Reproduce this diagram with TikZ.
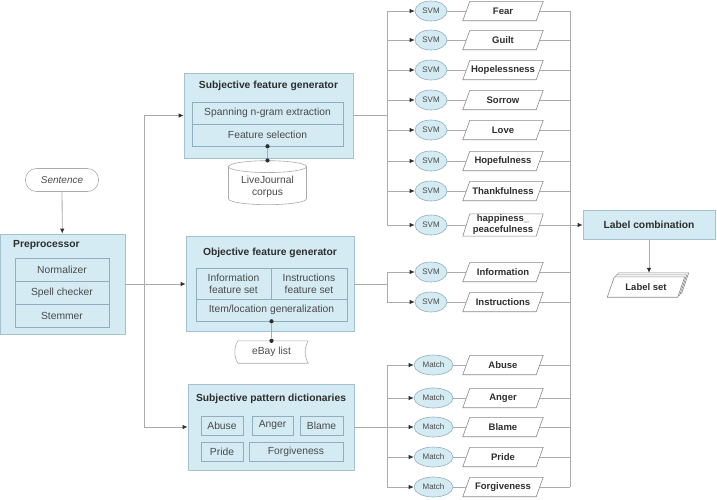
\documentclass[tikz,border=0pt]{standalone}
\usepackage{fontspec}
\setmainfont{Liberation Sans}
\usepackage{xcolor}
\usepackage{tikz}
\usetikzlibrary{calc,arrows.meta,shapes.geometric,backgrounds}
\definecolor{ink}{HTML}{2E2E2E}
\definecolor{soft}{HTML}{4A4A4A}
\definecolor{wiregray}{HTML}{ABABAB}
\definecolor{boxfill}{HTML}{D4EBF3}
\definecolor{boxline}{HTML}{A3C3CF}
\definecolor{rowline}{HTML}{8FAFBD}
\tikzset{
  wire/.style={draw=wiregray, line width=0.8pt},
  arr/.style={wire, -{Latex[length=5pt,width=4.5pt,color=ink]}},
  gen/.style={rectangle, draw=boxline, fill=boxfill, line width=0.8pt, inner sep=0pt},
  row/.style={rectangle, draw=rowline, line width=0.6pt, inner sep=0pt, text=soft, font=\fontsize{10.3}{12}\selectfont, align=center},
  ttl/.style={text=ink, font=\fontsize{10.3}{12}\selectfont\bfseries, inner sep=0pt},
  term/.style={rectangle, rounded corners=11pt, draw=wiregray, line width=0.6pt, minimum width=73, minimum height=23, text=soft, font=\fontsize{10}{12}\selectfont\itshape},
  clf/.style={ellipse, draw=rowline, fill=boxfill, line width=0.6pt, inner sep=0pt, minimum height=20, text=soft, font=\fontsize{8}{9}\selectfont},
  lbl/.style={rectangle, minimum width=73, minimum height=19, inner sep=1pt, text=ink, font=\fontsize{9.5}{11}\selectfont\bfseries, align=center,
    append after command={\pgfextra{\begin{pgfonlayer}{background}
      \draw[draw=wiregray!80!black, fill=white, line width=0.6pt]
        ([xshift=-3.5pt]\tikzlastnode.south west) -- ([xshift=3.5pt]\tikzlastnode.north west)
        -- ([xshift=3.5pt]\tikzlastnode.north east) -- ([xshift=-3.5pt]\tikzlastnode.south east) -- cycle;
      \end{pgfonlayer}}}},
  corpus/.style={cylinder, shape border rotate=90, aspect=0.2, draw=wiregray, fill=white, line width=0.6pt, minimum width=78, minimum height=44, text=soft, align=center, font=\fontsize{10.3}{12}\selectfont},
  store/.style={rectangle, inner sep=0pt, text=soft, font=\fontsize{10.3}{12}\selectfont},
  dot/.style={circle, fill=ink, inner sep=1.5pt},
}
\begin{document}
\begin{tikzpicture}[x=1pt,y=1pt]
\useasboundingbox (0,0) rectangle (717,-499);
% input and preprocessing
\node[term] (snt) at (62,-180) {Sentence};
\node[gen, minimum width=125, minimum height=100] (pre) at (62.5,-284) {};
\node[ttl, anchor=west] (pret) at (13,-245) {Preprocessor};
\node[row, minimum width=94, minimum height=23] (nrm) at (62,-269.5) {Normalizer};
\node[row, minimum width=94, minimum height=23] (spl) at (62,-292.5) {Spell checker};
\node[row, minimum width=94, minimum height=23] (stm) at (62,-315.5) {Stemmer};
\draw[arr] (snt) -- (pre);

% subjective feature generator
\node[gen, minimum width=169, minimum height=85] (sfg) at (268.5,-115.5) {};
\node[ttl] (sfgt) at (268.5,-86) {Subjective feature generator};
\node[row, minimum width=151, minimum height=22] (sng) at (267.5,-113) {Spanning n-gram extraction};
\node[row, minimum width=151, minimum height=22] (fsl) at (267.5,-135) {Feature selection};
\node[corpus] (lj) at (267.5,-187) {LiveJournal\\corpus};
\node[dot] (fd1) at (fsl.south) {};
\node[dot] (fd2) at (lj.north) {};
\draw[wire] (fd1) -- (fd2);

% objective feature generator
\node[gen, minimum width=168, minimum height=95] (ofg) at (270,-284) {};
\node[ttl] (ofgt) at (270,-253) {Objective feature generator};
\node[row, minimum width=75, minimum height=31] (ifs) at (233.5,-283.5) {Information\\feature set};
\node[row, minimum width=76, minimum height=31] (nfs) at (309,-283.5) {Instructions\\feature set};
\node[row, minimum width=151, minimum height=22] (ilg) at (271.5,-310) {Item/location generalization};
\node[store, minimum width=73, minimum height=22] (eby) at (271.5,-352) {eBay list};
\draw[wire, line width=0.6pt] ($(eby.north west)+(3,0)$) -- (eby.north east)
  .. controls ($(eby.north east)+(-4,-7)$) and ($(eby.south east)+(-4,7)$) .. (eby.south east)
  -- ($(eby.south west)+(3,0)$)
  .. controls ($(eby.south west)+(-1,7)$) and ($(eby.north west)+(-1,-7)$) .. ($(eby.north west)+(3,0)$);
\node[dot] (od1) at (ilg.south) {};
\node[dot] (od2) at (eby.north) {};
\draw[wire] (od1) -- (od2);

% pattern dictionaries
\node[gen, minimum width=166, minimum height=86] (spd) at (271,-427) {};
\node[ttl] (spdt) at (271,-399) {Subjective pattern dictionaries};
\node[row, minimum width=42, minimum height=19] (dab) at (222,-425.5) {Abuse};
\node[row, minimum width=41, minimum height=19] (dan) at (272.5,-425.5) {Anger};
\node[row, minimum width=43, minimum height=19] (dbl) at (321.5,-425.5) {Blame};
\node[row, minimum width=42, minimum height=19] (dpr) at (222,-451.5) {Pride};
\node[row, minimum width=94, minimum height=19] (dfg) at (296,-451.5) {Forgiveness};

% branching to the generators
\coordinate (t1) at (144,-115.5);
\coordinate (t2) at (144,-427);
\coordinate (lt) at (387,0);
\coordinate (rt) at (570,0);
\draw[wire] (t1) -- (t2);
\draw[arr] (t1) -- (sfg.west);
\draw[arr] (pre.east) -- (ofg.west);
\draw[arr] (t2) -- (spd.west);

% classifiers
\foreach \y/\t/\n in {11/Fear/a,40/Guilt/b,70/Hopelessness/c,100/Sorrow/d,130/Love/e,161/Hopefulness/f,191/Thankfulness/g,225/{happiness\_\\peacefulness}/h,272/Information/i,302/Instructions/j}{
  \node[clf, minimum width=32] (c\n) at (431,-\y) {SVM};
  \node[lbl] (l\n) at (503,-\y) {\t};
  \draw[arr] (c\n -| lt) -- (c\n.west);
  \draw[wire] (c\n) -- (l\n);
  \draw[wire] (l\n.east) -- (l\n.east -| rt);
}
\foreach \y/\t/\n in {365/Abuse/a,398/Anger/b,427/Blame/c,457/Pride/d,487/Forgiveness/e}{
  \node[clf, minimum width=39] (m\n) at (433.5,-\y) {Match};
  \node[lbl] (p\n) at (503,-\y) {\t};
  \draw[arr] (m\n -| lt) -- (m\n.west);
  \draw[wire] (m\n) -- (p\n);
  \draw[wire] (p\n.east) -- (p\n.east -| rt);
}
\draw[wire] (ca -| lt) -- (ch -| lt);
\draw[wire] (sfg.east) -- (sfg.east -| lt);
\draw[wire] (ci -| lt) -- (cj -| lt);
\draw[wire] (ofg.east) -- (ofg.east -| lt);
\draw[wire] (ma -| lt) -- (me -| lt);
\draw[wire] (spd.east) -- (spd.east -| lt);
\draw[wire] (la.east -| rt) -- (pe.east -| rt);

% combination
\node[gen, minimum width=132, minimum height=29, text=ink, font=\fontsize{10.3}{12}\selectfont\bfseries] (lc) at (649,-225) {Label combination};
\draw[arr] (lh.east) -- (lc.west);
\node[lbl, minimum width=70, minimum height=20] (ls3) at (650,-283) {};
\node[lbl, minimum width=70, minimum height=20] (ls2) at (648,-285) {};
\node[lbl, minimum width=70, minimum height=20] (ls) at (646,-287) {Label set};
\draw[arr] (lc.south) -- (lc.south |- ls3.north);
\end{tikzpicture}
\end{document}
